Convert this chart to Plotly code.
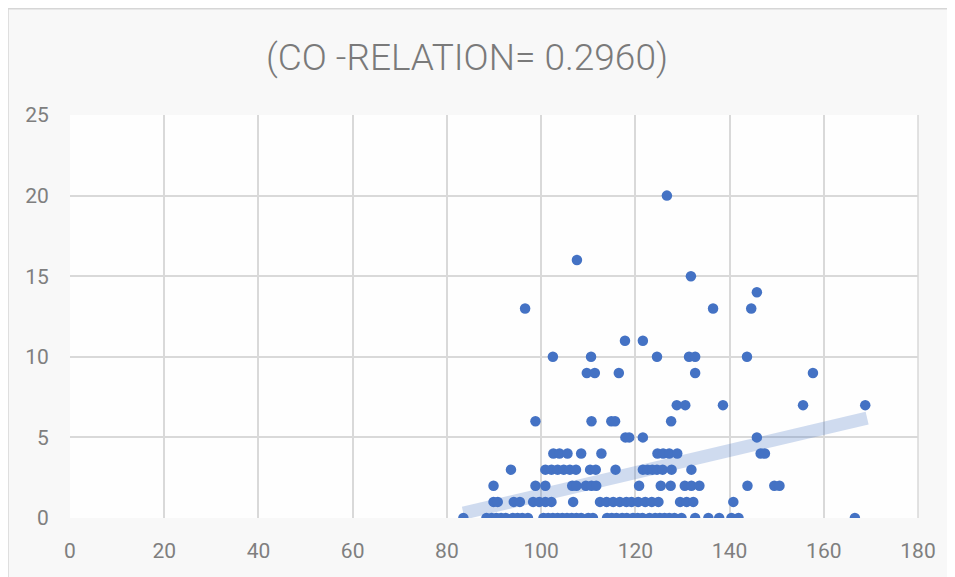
import numpy as np
import plotly.graph_objects as go

# (x values grouped by y value)
y0_x = [83.5, 88.4, 89.5, 90.5, 91.5, 92.5, 94.0, 95.0, 96.0, 97.2,
        100.5, 101.5, 102.5, 103.5, 104.5, 105.5, 106.5, 107.5, 108.5, 110.0, 111.0,
        114.0, 115.0, 116.0, 117.2, 118.2, 119.5, 120.5, 121.5, 123.0, 124.2, 125.2, 126.2, 127.2,
        128.3, 129.8, 132.7, 135.5, 137.8, 140.4, 141.9, 166.6]
y1_x = [89.9, 90.8, 94.2, 95.5, 98.3, 99.6, 100.9, 102.2, 106.8, 112.5, 113.9, 115.3,
        116.7, 118.1, 119.2, 120.6, 122.1, 123.5, 124.9, 129.5, 130.9, 132.3, 140.8]
y2_x = [89.9, 98.8, 100.9, 106.6, 107.5, 109.5, 110.7, 111.7, 120.8, 125.4, 127.5,
        130.5, 131.9, 133.6, 143.8, 149.5, 150.6]
y3_x = [93.6, 100.9, 102.2, 103.5, 104.8, 106.1, 107.4, 110.4, 111.6, 115.8, 121.6,
        122.6, 123.6, 124.6, 125.8, 127.7, 131.9]
y4_x = [102.6, 103.9, 105.6, 108.5, 112.8, 124.7, 125.9, 127.2, 128.9, 146.6, 147.5]
y5_x = [117.9, 118.7, 121.6, 145.8]
y6_x = [98.8, 110.7, 114.9, 115.7, 127.6]
y7_x = [128.8, 130.6, 138.6, 155.6, 168.8]
y9_x = [109.7, 111.4, 116.5, 132.7, 157.7]
y10_x = [102.5, 110.6, 124.6, 131.4, 132.7, 143.7]
y11_x = [117.8, 121.6]
y13_x = [96.6, 136.5, 144.6]
y14_x = [145.8]
y15_x = [131.8]
y16_x = [107.6]
y20_x = [126.7]

groups = {0: y0_x, 1: y1_x, 2: y2_x, 3: y3_x, 4: y4_x, 5: y5_x, 6: y6_x, 7: y7_x,
          9: y9_x, 10: y10_x, 11: y11_x, 13: y13_x, 14: y14_x, 15: y15_x, 16: y16_x, 20: y20_x}

# linear trendline end points
trend_x = [83.5, 169.2]
trend_y = [0.3, 6.2]

title_text = "(CO -RELATION= 0.2960)"
x_ticks = [0, 20, 40, 60, 80, 100, 120, 140, 160, 180]
y_ticks = [0, 5, 10, 15, 20, 25]

xs, ys = [], []
for yv, xl in groups.items():
    xs += xl
    ys += [yv] * len(xl)

fig = go.Figure()
fig.add_trace(go.Scatter(x=trend_x, y=trend_y, mode="lines",
                         line=dict(color="rgba(68,114,196,0.25)", width=13),
                         hoverinfo="skip", showlegend=False))
fig.add_trace(go.Scatter(x=xs, y=ys, mode="markers",
                         marker=dict(color="#4472C4", size=10.5, line=dict(width=0)),
                         showlegend=False))

font_fam = "Liberation Sans Narrow, Roboto, Arial Narrow, sans-serif"
fig.update_layout(
    width=955, height=577,
    margin=dict(l=62, r=45, t=107, b=67),
    paper_bgcolor="white",
    plot_bgcolor="white",
    title=dict(text=title_text, x=0.4806, xanchor="center", y=0.915, yanchor="middle",
               font=dict(family=font_fam, size=37, color="#7a7a7a", weight=300)),
    font=dict(family=font_fam, color="#7f7f7f", size=21),
    xaxis=dict(range=[0, 180], tickvals=x_ticks, showgrid=True, gridcolor="#d9d9d9", gridwidth=1.5,
               zeroline=False, showline=False, ticks="outside", ticklen=14,
               tickcolor="rgba(0,0,0,0)", tickfont=dict(size=21, color="#7f7f7f")),
    yaxis=dict(range=[0, 25], tickvals=y_ticks, showgrid=True, gridcolor="#d9d9d9", gridwidth=1.5,
               zeroline=False, showline=False, ticks="outside", ticklen=16,
               tickcolor="rgba(0,0,0,0)", tickfont=dict(size=21, color="#7f7f7f")),
    shapes=[
        dict(type="rect", xref="paper", yref="paper", x0=-0.0731, x1=1.06, y0=-0.2, y1=1.2636,
             fillcolor="#f8f8f8", line=dict(color="#d6d6d6", width=1.5), layer="below"),
        dict(type="rect", xref="paper", yref="paper", x0=0, x1=1, y0=0, y1=1,
             fillcolor="rgba(255,255,255,0.8)", line=dict(width=0), layer="below"),
        dict(type="line", xref="paper", yref="paper", x0=1, x1=1, y0=0, y1=1,
             line=dict(color="#d9d9d9", width=1.5), layer="below"),
    ],
)

fig.write_html("out.html")
